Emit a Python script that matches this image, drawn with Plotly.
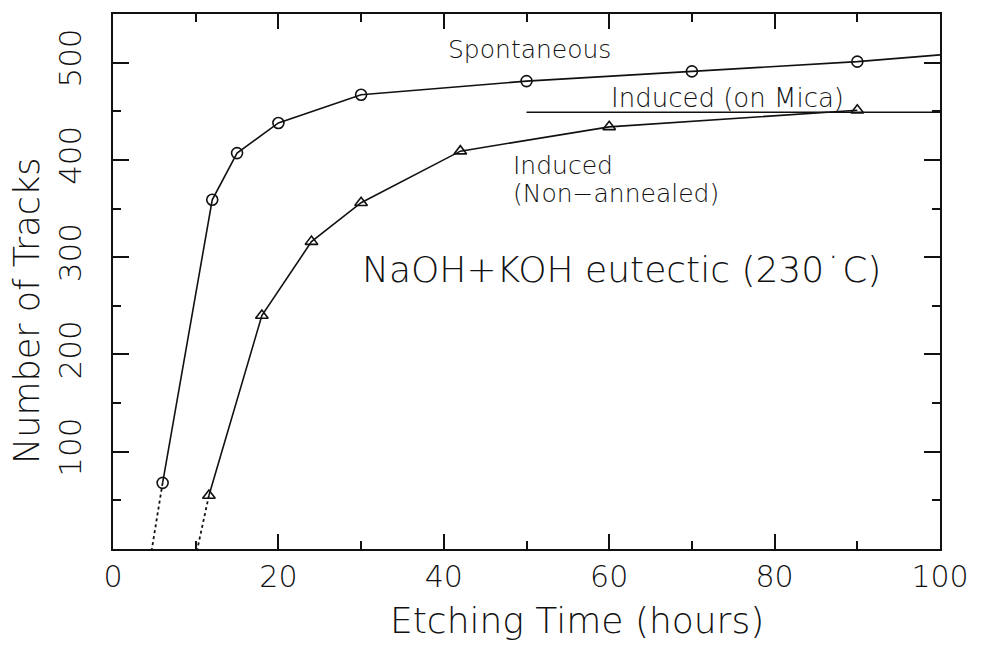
import plotly.graph_objects as go

# Spontaneous tracks (circles)
spont_x = [6, 12, 15, 20, 30, 50, 70, 90]
spont_y = [68, 359, 407, 438, 467, 481, 491, 501]
spont_tail_x = [90, 100]
spont_tail_y = [501, 508]
spont_extrap_x = [6, 4.7]
spont_extrap_y = [68, 0]

# Induced (non-annealed) tracks (triangles)
ind_x = [11.6, 18, 24, 30, 42, 60, 90]
ind_y = [55, 240, 316, 356, 409, 434, 451]
ind_extrap_x = [11.6, 10.2]
ind_extrap_y = [55, 0]

# Induced on mica (reference level)
mica_x = [50, 100]
mica_y = [449, 449]

x_ticks = [0, 20, 40, 60, 80, 100]
y_ticks = [100, 200, 300, 400, 500]

FONT = "DejaVu Sans"
BLACK = "#111111"

fig = go.Figure()

line = dict(color=BLACK, width=1.6)
fig.add_trace(go.Scatter(x=spont_x + spont_tail_x[1:], y=spont_y + spont_tail_y[1:],
                         mode="lines", line=line, hoverinfo="skip"))
fig.add_trace(go.Scatter(x=spont_x, y=spont_y, mode="markers",
                         marker=dict(symbol="circle-open", size=11, color=BLACK,
                                     line=dict(width=1.6, color=BLACK))))
fig.add_trace(go.Scatter(x=ind_x, y=ind_y, mode="lines+markers", line=line,
                         marker=dict(symbol="triangle-up-open", size=11, color=BLACK,
                                     line=dict(width=1.6, color=BLACK))))
fig.add_trace(go.Scatter(x=mica_x, y=mica_y, mode="lines", line=line, hoverinfo="skip"))
dash = dict(color=BLACK, width=1.8, dash="3px,3px")
fig.add_trace(go.Scatter(x=spont_extrap_x, y=spont_extrap_y, mode="lines", line=dash))
fig.add_trace(go.Scatter(x=ind_extrap_x, y=ind_extrap_y, mode="lines", line=dash))

def f(size):
    return dict(family=FONT, size=size, color=BLACK, weight=200)

# positions in page pixels of the reference picture
annotations = [
    dict(text="Spontaneous", x=529, y=48, xanchor="center", yanchor="middle", font=f(25)),
    dict(text="Induced (on Mica)", x=727, y=96, xanchor="center", yanchor="middle", font=f(26)),
    dict(text="Induced", x=511, y=164, xanchor="left", yanchor="middle", font=f(25)),
    dict(text="(Non\u2212annealed)", x=511, y=192, xanchor="left", yanchor="middle", font=f(25)),
    dict(text="NaOH+KOH eutectic (230\u02d9C)", x=621, y=268, xanchor="center", yanchor="middle",
         font=f(36)),
    dict(text="Number of Tracks", x=27, y=310, xanchor="center", yanchor="middle", textangle=-90,
         font=f(35)),
    dict(text="Etching Time (hours)", x=577, y=621, xanchor="center", yanchor="middle",
         font=f(36)),
]
W, H = 983, 653
OFF = 8  # page body margin
PL, PR, PT, PB = 113, 940, 12, 549  # plot area edges on the page
L = PL - OFF
T = PT - OFF
R = W - (PR - OFF)
B = H - (PB - OFF)
pw, ph = PR - PL, PB - PT
for a in annotations:
    a["x"] = (a["x"] - PL) / pw
    a["y"] = 1 - (a["y"] - PT) / ph
    a["xref"] = "paper"
    a["yref"] = "paper"
    a["showarrow"] = False

fig.update_layout(
    width=W, height=H,
    margin=dict(l=L, r=R, t=T, b=B),
    paper_bgcolor="white", plot_bgcolor="white",
    showlegend=False,
    font=dict(family=FONT, color=BLACK, weight=200),
    annotations=annotations,
)
fig.update_xaxes(
    range=[0, 100], tickvals=x_ticks, ticktext=[str(v) for v in x_ticks],
    ticks="inside", ticklen=15, tickwidth=1.5, tickcolor=BLACK,
    minor=dict(dtick=10, tick0=0, ticks="inside", ticklen=8, tickwidth=1.5, tickcolor=BLACK),
    showline=True, linewidth=2, linecolor=BLACK, mirror="allticks",
    showgrid=False, zeroline=False, ticklabelstandoff=0,
    tickfont=f(30),
)
fig.update_yaxes(
    range=[0, 550], tickvals=y_ticks, ticktext=[str(v) for v in y_ticks],
    ticks="inside", ticklen=16, tickwidth=1.5, tickcolor=BLACK,
    minor=dict(dtick=50, tick0=0, ticks="inside", ticklen=8, tickwidth=1.5, tickcolor=BLACK),
    showline=True, linewidth=2, linecolor=BLACK, mirror="allticks",
    showgrid=False, zeroline=False, tickangle=-90, ticklabelstandoff=18,
    tickfont=f(31),
)

fig.write_html("out.html")
